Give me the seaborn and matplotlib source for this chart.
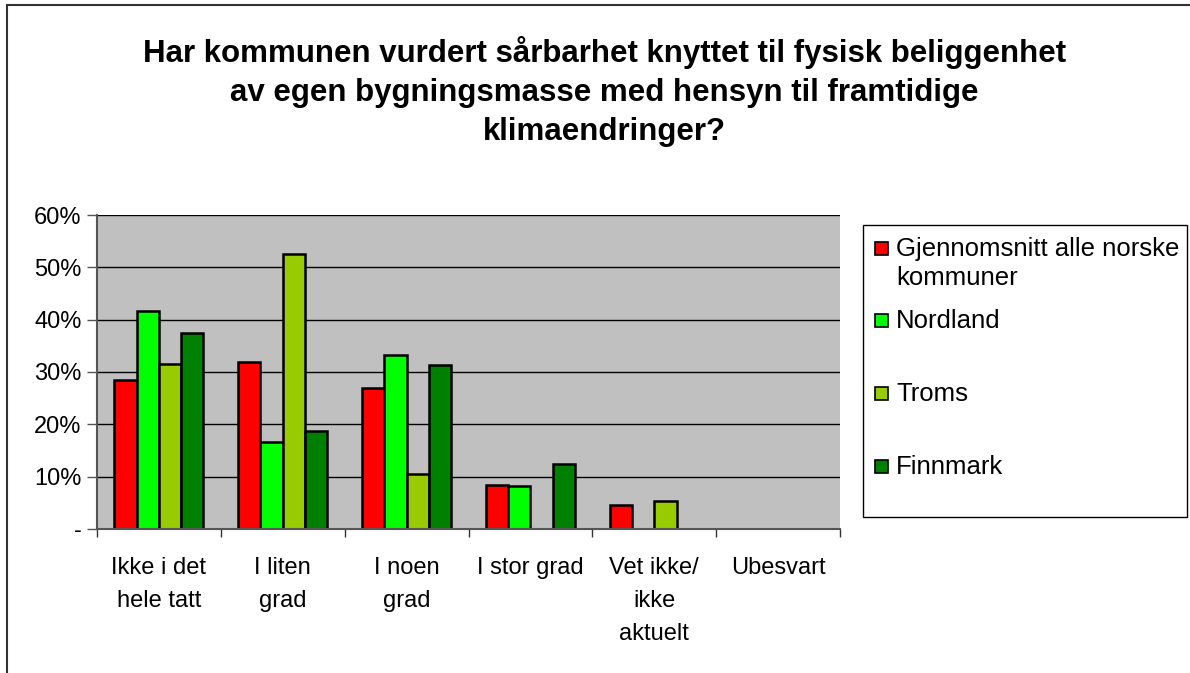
import numpy as np
import pandas as pd
import matplotlib
matplotlib.use("Agg")
import matplotlib.pyplot as plt
import seaborn as sns
from matplotlib.patches import Rectangle
from matplotlib.ticker import FixedLocator, FuncFormatter

categories = ["Ikke i det\nhele tatt", "I liten\ngrad", "I noen\ngrad",
              "I stor grad", "Vet ikke/\nikke\naktuelt", "Ubesvart"]
series = ["Gjennomsnitt alle norske\nkommuner", "Nordland", "Troms", "Finnmark"]
gjennomsnitt = [28.5, 31.9, 26.9, 8.4, 4.5, 0.0]
nordland = [41.7, 16.7, 33.3, 8.3, 0.0, 0.0]
troms = [31.6, 52.6, 10.5, 0.0, 5.3, 0.0]
finnmark = [37.5, 18.75, 31.25, 12.5, 0.0, 0.0]
colors = ["#FF0000", "#00FF00", "#99CC00", "#008000"]

title = ("Har kommunen vurdert sårbarhet knyttet til fysisk beliggenhet\n"
         "av egen bygningsmasse med hensyn til framtidige\n"
         "klimaendringer?")

W, H = 1190, 673

rows = []
for name, vals in zip(series, [gjennomsnitt, nordland, troms, finnmark]):
    for cat, v in zip(categories, vals):
        rows.append({"Kategori": cat, "Serie": name, "Andel": v / 100})
df = pd.DataFrame(rows)

sns.set_style("white")
plt.rcParams["font.family"] = ["Liberation Sans", "DejaVu Sans"]
plt.rcParams["text.color"] = "black"
plt.rcParams["xtick.labelcolor"] = "black"
plt.rcParams["ytick.labelcolor"] = "black"

fig = plt.figure(figsize=(W / 100, H / 100), dpi=100)
ax = fig.add_axes([97 / W, 1 - 529 / H, (840 - 97) / W, (529 - 215) / H])
ax.set_facecolor("#C0C0C0")

sns.barplot(data=df, x="Kategori", y="Andel", hue="Serie", palette=colors,
            order=categories, hue_order=series, width=0.72, saturation=1,
            edgecolor="black", linewidth=1.8, ax=ax, legend=False)

ax.set_ylim(0, 0.6)
ax.set_xlim(-0.5, len(categories) - 0.5)
ax.set_yticks(np.arange(0, 0.61, 0.1))
ax.yaxis.set_major_formatter(FuncFormatter(lambda v, p: "-" if v == 0 else f"{v*100:.0f}%"))
ax.yaxis.grid(True, color="black", linewidth=1)
ax.set_axisbelow(True)
ax.set_xlabel("")
ax.set_ylabel("")

# x ticks at group boundaries, labels in the middle
ax.xaxis.set_minor_locator(FixedLocator(np.arange(-0.5, len(categories), 1.0)))
ax.tick_params(axis="x", which="major", length=0, pad=20, labelsize=17)
ax.tick_params(axis="x", which="minor", length=6, width=1, color="#333333", direction="out")
ax.tick_params(axis="y", length=7, width=1, color="#555555", direction="out", labelsize=17, pad=4)
ax.tick_params(bottom=True, left=True, which="both")
for lab in ax.get_xticklabels():
    lab.set_linespacing(1.66)

for s in ["top", "right"]:
    ax.spines[s].set_visible(False)
ax.spines["left"].set_color("#555555")
ax.spines["left"].set_linewidth(1.5)
ax.spines["bottom"].set_color("#555555")
ax.spines["bottom"].set_linewidth(1.5)

fig.text(0.508, 1 - 36 / H, title, ha="center", va="top", fontsize=22.5,
         fontweight="bold", linespacing=1.4)

# legend drawn as in the original: boxed, small square keys
fig.patches.append(Rectangle((863 / W, 1 - 517 / H), (1187 - 863) / W, (517 - 225) / H,
                             transform=fig.transFigure, facecolor="white",
                             edgecolor="black", linewidth=1))
key_y = [249, 321, 394, 467]
for name, c, y in zip(series, colors, key_y):
    fig.patches.append(Rectangle((875 / W, 1 - (y + 6) / H), 13 / W, 13 / H,
                                 transform=fig.transFigure, facecolor=c,
                                 edgecolor="black", linewidth=1.2))
    fig.text(896 / W, 1 - (y - 12) / H, name, ha="left", va="top",
             fontsize=18.5, linespacing=1.25)

fig.patches.append(Rectangle((7 / W, -0.1), 1.2, 1 - 5 / H + 0.1,
                             transform=fig.transFigure, fill=False,
                             edgecolor="#333333", linewidth=1.5))

fig.savefig("out.png", dpi=100)
